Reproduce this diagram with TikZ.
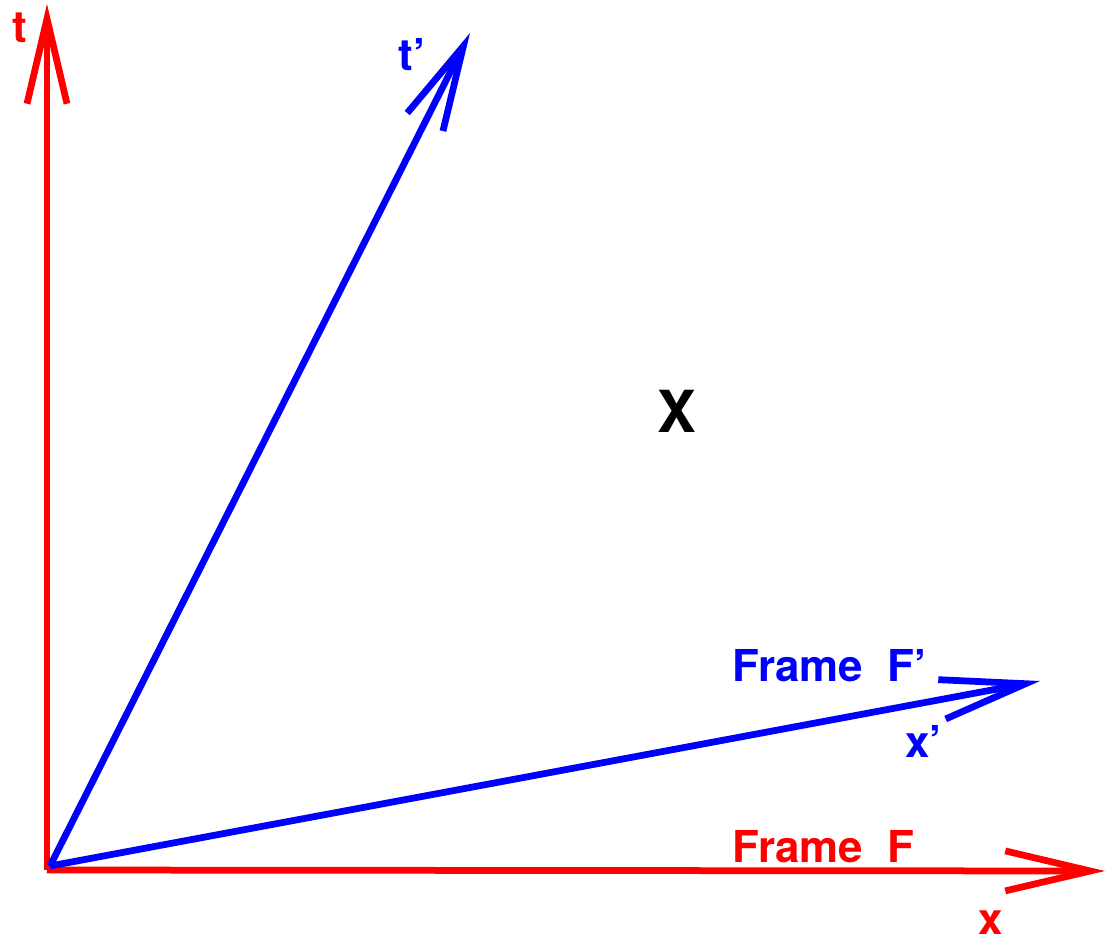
\documentclass[tikz,border=0pt]{standalone}
\usepackage{fontspec}
\setmainfont{TeX Gyre Heros}
\usetikzlibrary{arrows.meta}
\definecolor{FrameRed}{HTML}{FF0000}
\definecolor{FrameBlue}{HTML}{0000FF}
\tikzset{
  axis/.style={-{Straight Barb[length=17mm,width=8mm]}, line width=1.35mm},
  redaxis/.style={axis, draw=FrameRed},
  blueaxis/.style={axis, draw=FrameBlue},
  lbl/.style={inner sep=0pt, anchor=base west, font=\fontsize{25}{30}\selectfont\bfseries},
  redlbl/.style={lbl, text=FrameRed},
  bluelbl/.style={lbl, text=FrameBlue},
}
\begin{document}
\begin{tikzpicture}[x=0.2mm,y=-0.2mm]
  \useasboundingbox (0,0) rectangle (1105,942);
  % frame F
  \coordinate (O) at (47,870);
  \coordinate (tEnd) at (47,4);
  \coordinate (xEnd) at (1105,871);
  % frame F'
  \coordinate (Ob) at (50,866);
  \coordinate (tpEnd) at (470,33);
  \coordinate (xpEnd) at (1040,681);
  \draw[redaxis] (O) -- (tEnd);
  \draw[redaxis] (O) -- (xEnd);
  \draw[blueaxis] (Ob) -- (tpEnd);
  \draw[blueaxis] (Ob) -- (xpEnd);
  \node[redlbl] (tLabel) at (12,42) {t};
  \node[redlbl] (xLabel) at (978,934) {x};
  \node[redlbl] (frameF) at (732,862) {Frame\ \ F};
  \node[bluelbl] (tpLabel) at (398,70) {t’};
  \node[bluelbl] (xpLabel) at (905,757) {x’};
  \node[bluelbl] (frameFp) at (732,681) {Frame\ \ F’};
  \node[inner sep=0pt, anchor=base west, font=\fontsize{33}{40}\selectfont\bfseries] (event) at (657,432) {X};
\end{tikzpicture}
\end{document}
